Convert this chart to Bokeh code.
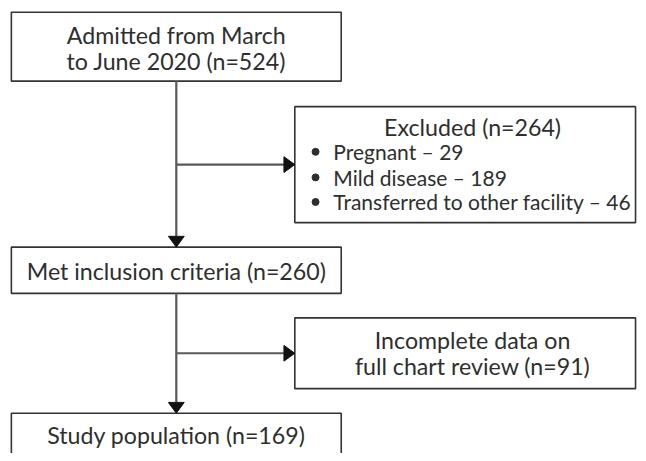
from bokeh.plotting import figure
from bokeh.models import Range1d
from bokeh.core.properties import value
from bokeh.embed import file_html
from bokeh.resources import INLINE

# ---- data (flowchart texts and counts) ----
admitted_n = 524
excluded_n = 264
excluded_reasons = ["Pregnant", "Mild disease", "Transferred to other facility"]
excluded_counts = [29, 189, 46]
included_n = 260
incomplete_n = 91
study_n = 169

main_labels = [
    ["Admitted from March", f"to June 2020 (n={admitted_n})"],
    [f"Met inclusion criteria (n={included_n})"],
    [f"Study population (n={study_n})"],
]
side_title = f"Excluded (n={excluded_n})"
side_items = [f"{r} \u2013 {c}" for r, c in zip(excluded_reasons, excluded_counts)]
incomplete_labels = ["Incomplete data on", f"full chart review (n={incomplete_n})"]

# ---- layout (reference pixel coordinates, 646 x 461) ----
W, H = 638, 453
p = figure(width=W, height=H, output_backend="svg", toolbar_location=None,
           x_range=Range1d(0, 646), y_range=Range1d(461, 0),
           min_border=0, outline_line_color=None)
p.axis.visible = False
p.grid.visible = False
p.background_fill_color = "white"
p.border_fill_color = "white"

FONT = value("Lato")
FS = "23.2px"
FS_ITEMS = "21px"
TXT = "#2e2e2e"
BOX = "#333333"
LINE = "#595959"
DY = -8  # text baseline correction

# boxes: (left, right, top, bottom)
main_boxes = [(11, 345, 12, 82), (11, 345, 251, 298), (11, 345, 420, 480)]
side_boxes = [(298, 643, 108, 226), (298, 643, 323, 395)]

for (l, r, t, b) in main_boxes + side_boxes:
    p.quad(left=l, right=r, top=t, bottom=b, fill_color="white",
           line_color=BOX, line_width=1.6)

cx = 178
head_len, head_w = 11, 16
# vertical connectors
p.segment(x0=[cx, cx], y0=[82, 298], x1=[cx, cx], y1=[251 - head_len, 420 - head_len],
          line_color=LINE, line_width=2.2)
# horizontal branches
branch_y = [167, 359]
p.segment(x0=[cx, cx], y0=branch_y, x1=[298 - head_len, 298 - head_len], y1=branch_y,
          line_color=LINE, line_width=2.2)

# arrow heads
xs, ys = [], []
for tip in [251, 420]:
    xs.append([cx - head_w / 2, cx + head_w / 2, cx])
    ys.append([tip - head_len, tip - head_len, tip])
for by in branch_y:
    xs.append([298 - head_len, 298 - head_len, 298])
    ys.append([by - head_w / 2, by + head_w / 2, by])
p.patches(xs=xs, ys=ys, fill_color="#111111", line_color="#111111")

# main texts
main_baselines = [[43, 70], [283], [450]]
for labels, bls in zip(main_labels, main_baselines):
    p.text(x=[cx] * len(labels), y=[b + DY for b in bls], text=labels, text_font=FONT,
           text_font_size=FS, text_color=TXT, text_align="center",
           text_baseline="alphabetic")

# excluded box
p.text(x=[478], y=[137 + DY], text=[side_title], text_font=FONT, text_font_size=FS,
       text_color=TXT, text_align="center", text_baseline="alphabetic")
item_bl = [162, 188, 213]
p.text(x=[337] * 3, y=[b + DY for b in item_bl], text=side_items, text_font=FONT,
       text_font_size=FS_ITEMS, text_color=TXT, text_align="left",
       text_baseline="alphabetic")
p.scatter(x=[319] * 3, y=[b - 8 for b in item_bl], size=7, color=TXT)

# incomplete box
p.text(x=[478, 478], y=[353 + DY, 380 + DY], text=incomplete_labels, text_font=FONT,
       text_font_size=FS, text_color=TXT, text_align="center",
       text_baseline="alphabetic")

open("out.html", "w").write(file_html(p, INLINE))
